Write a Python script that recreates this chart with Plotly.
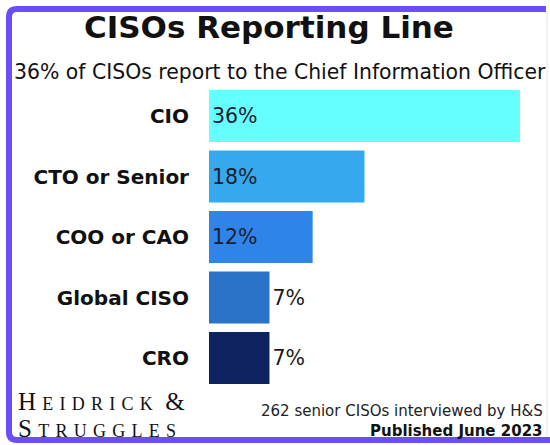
import plotly.graph_objects as go

categories = ["CIO", "CTO or Senior", "COO or CAO", "Global CISO", "CRO"]
values = [36, 18, 12, 7, 7]
value_labels = ["36%", "18%", "12%", "7%", "7%"]
bar_colors = ["#66FFFF", "#36A9EE", "#2F84EA", "#2B72C9", "#0E2161"]
text_positions = ["inside", "inside", "inside", "outside", "outside"]

W, H = 550, 445
def px(x):
    return x / W
def py(y):
    return 1 - y / H

fig = go.Figure()
fig.add_trace(go.Bar(
    x=values,
    y=categories,
    orientation="h",
    marker=dict(color=bar_colors, line=dict(width=0)),
    text=value_labels,
    textposition=text_positions,
    insidetextanchor="start",
    textfont=dict(family="DejaVu Sans", size=20.5, color="#1a2030"),
    insidetextfont=dict(family="DejaVu Sans", size=20.5, color="#1a2030"),
    outsidetextfont=dict(family="DejaVu Sans", size=20.5, color="#1a1a1a"),
    cliponaxis=False,
    hoverinfo="skip",
))

# border path (purple frame, open on the right)
border_color = "#6B4EF6"
r = 8
x0, y0, y1 = 9, 9, 440
path = (
    f"M {px(546)},{py(y0)} L {px(x0 + r)},{py(y0)} "
    f"Q {px(x0)},{py(y0)} {px(x0)},{py(y0 + r)} "
    f"L {px(x0)},{py(y1 - r)} Q {px(x0)},{py(y1)} {px(x0 + r)},{py(y1)} "
    f"L {px(560)},{py(y1)}"
)

fig.update_layout(
    width=W, height=H,
    margin=dict(l=0, r=0, t=0, b=0),
    paper_bgcolor="white",
    plot_bgcolor="white",
    showlegend=False,
    bargap=0.14,
    xaxis=dict(domain=[px(209), px(520)], range=[0, 36], visible=False, fixedrange=True),
    yaxis=dict(
        domain=[py(388.25), py(85.75)],
        autorange="reversed",
        showgrid=False, zeroline=False, showline=False,
        ticks="outside", ticklen=15, tickcolor="rgba(0,0,0,0)",
        tickfont=dict(family="DejaVu Sans", size=20, color="#111111", weight="bold"),
        fixedrange=True,
    ),
    shapes=[
        dict(type="path", xref="paper", yref="paper", path=path,
             line=dict(color=border_color, width=6), layer="above"),
        dict(type="line", xref="paper", yref="paper", x0=px(547), x1=px(547), y0=py(12), y1=py(437),
             line=dict(color="#e6e6ee", width=1)),
    ],
    annotations=[
        dict(text="<b>CISOs Reporting Line</b>", xref="paper", yref="paper",
             x=px(269), y=py(27), xanchor="center", yanchor="middle", showarrow=False,
             font=dict(family="DejaVu Sans", size=31, color="#111111")),
        dict(text="36% of CISOs report to the Chief Information Officer", xref="paper", yref="paper",
             x=px(280), y=py(72), xanchor="center", yanchor="middle", showarrow=False,
             font=dict(family="DejaVu Sans", size=20.4, color="#111111")),
        dict(text="H e i d r i c k  &", xref="paper", yref="paper",
             x=px(16), y=py(401), xanchor="left", yanchor="middle", showarrow=False,
             font=dict(family="Liberation Serif", size=25, color="#111111", variant="small-caps")),
        dict(text="S t r u g g l e s", xref="paper", yref="paper",
             x=px(16), y=py(428), xanchor="left", yanchor="middle", showarrow=False,
             font=dict(family="Liberation Serif", size=25, color="#111111", variant="small-caps")),
        dict(text="262 senior CISOs interviewed by H&S", xref="paper", yref="paper",
             x=px(545), y=py(411), xanchor="right", yanchor="middle", showarrow=False,
             font=dict(family="DejaVu Sans", size=15, color="#222222")),
        dict(text="<b>Published June 2023</b>", xref="paper", yref="paper",
             x=px(545), y=py(431), xanchor="right", yanchor="middle", showarrow=False,
             font=dict(family="DejaVu Sans", size=15, color="#111111")),
    ],
)

fig.write_html(
    "out.html",
    config={"displayModeBar": False},
    post_script="document.body.style.margin='0';document.body.style.overflow='hidden';",
)
